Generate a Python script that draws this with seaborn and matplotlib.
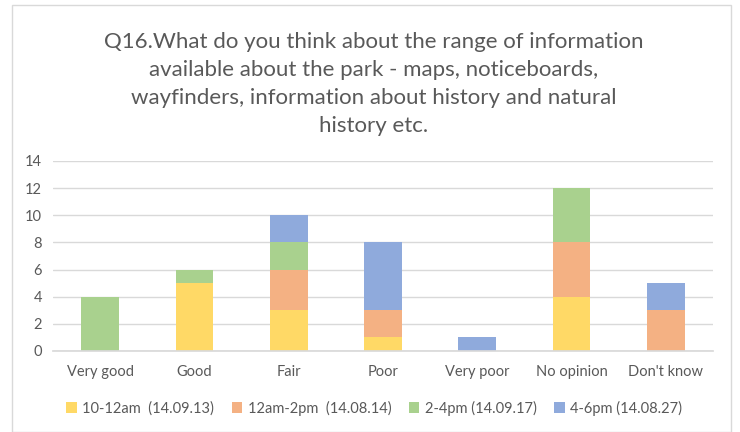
import matplotlib
matplotlib.use("Agg")
import matplotlib.pyplot as plt
import seaborn as sns
import numpy as np
from matplotlib.patches import Patch, Rectangle

categories = ["Very good", "Good", "Fair", "Poor", "Very poor", "No opinion", "Don't know"]
series_names = ["10-12am  (14.09.13)", "12am-2pm  (14.08.14)", "2-4pm (14.09.17)", "4-6pm (14.08.27)"]
s_10_12 = [0, 5, 3, 1, 0, 4, 0]
s_12_2 = [0, 0, 3, 2, 0, 4, 3]
s_2_4 = [4, 1, 2, 0, 0, 4, 0]
s_4_6 = [0, 0, 2, 5, 1, 0, 2]
colors = ["#FFD966", "#F4B183", "#A9D18E", "#8FAADC"]
yticks = [0, 2, 4, 6, 8, 10, 12, 14]
title = ("Q16.What do you think about the range of information\n"
         "available about the park - maps, noticeboards,\n"
         "wayfinders, information about history and natural\n"
         "history etc.")

sns.set_theme(style="white")
plt.rcParams['font.family'] = ['Lato', 'DejaVu Sans']
txt = "#595959"

fig = plt.figure(figsize=(7.4, 4.32), dpi=100)
ax = fig.add_axes([53/740, 1-351/432, (713-53)/740, (351-161)/432])

bottom = np.zeros(len(categories))
for name, vals, c in zip(series_names, [s_10_12, s_12_2, s_2_4, s_4_6], colors):
    sns.barplot(x=categories, y=vals, bottom=bottom, color=c, width=0.4,
                ax=ax, linewidth=0, saturation=1)
    bottom = bottom + np.array(vals)

ax.set_xlim(-0.5, 6.5)
ax.set_ylim(0, 14)
ax.set_yticks(yticks)
ax.yaxis.grid(True, color="#D9D9D9", linewidth=1)
ax.set_axisbelow(True)
for s in ["top", "right", "left"]:
    ax.spines[s].set_visible(False)
ax.spines["bottom"].set_color("#D9D9D9")
ax.tick_params(axis="both", colors=txt, labelsize=10.5, length=0)
ax.tick_params(axis="x", pad=10)
ax.tick_params(axis="y", pad=8)
ax.set_xlabel("")
ax.set_ylabel("")

fig.text(0.505, 1-32/432, title, ha="center", va="top", fontsize=16,
         color=txt, linespacing=1.5)

handles = [Patch(facecolor=c, edgecolor="none") for c in colors]
fig.legend(handles, series_names, loc="center", bbox_to_anchor=(0.506, 1-408/432),
           ncol=4, frameon=False, fontsize=10.5, labelcolor=txt,
           handlelength=0.7, handleheight=0.7, handletextpad=0.4, columnspacing=1.2)

fig.patches.append(Rectangle((12/740, 0), (731-12)/740, 1-5/432, transform=fig.transFigure,
                             fill=False, edgecolor="#D9D9D9", linewidth=1))

fig.savefig("out.png", dpi=100)
